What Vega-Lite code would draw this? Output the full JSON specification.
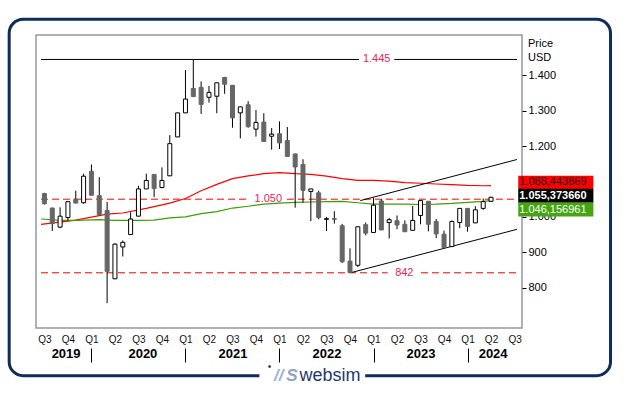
{
  "$schema": "https://vega.github.io/schema/vega-lite/v6.json",
  "width": 486,
  "height": 293,
  "autosize": {"type": "none"},
  "padding": {"left": 36, "top": 35, "right": 107, "bottom": 67},
  "background": "white",
  "config": {
    "view": {"stroke": "#9696a8", "strokeWidth": 1.5},
    "font": "Liberation Sans",
    "axis": {"grid": false}
  },
  "resolve": {"axis": {"x": "independent", "y": "independent"}},
  "datasets": {
    "one": [{"id": 1}],
    "ohlc": [
      {"t":0,"open":1066,"high":1068,"low":1035,"close":1037},
      {"t":1,"open":1025,"high":1026,"low":960,"close":981},
      {"t":2,"open":971,"high":1027,"low":968,"close":1002},
      {"t":3,"open":998,"high":1043,"low":989,"close":1043},
      {"t":4,"open":1050,"high":1074,"low":1039,"close":1039},
      {"t":5,"open":1040,"high":1122,"low":1037,"close":1115},
      {"t":6,"open":1129,"high":1148,"low":1061,"close":1061},
      {"t":7,"open":1060,"high":1112,"low":1004,"close":1006},
      {"t":8,"open":1018,"high":1042,"low":756,"close":846},
      {"t":9,"open":825,"high":925,"low":824,"close":923},
      {"t":10,"open":915,"high":933,"low":888,"close":928},
      {"t":11,"open":950,"high":1013,"low":950,"close":994},
      {"t":12,"open":1002,"high":1088,"low":1002,"close":1079},
      {"t":13,"open":1079,"high":1122,"low":1079,"close":1103},
      {"t":14,"open":1120,"high":1120,"low":1056,"close":1080},
      {"t":15,"open":1083,"high":1140,"low":1081,"close":1103},
      {"t":16,"open":1116,"high":1231,"low":1116,"close":1207},
      {"t":17,"open":1226,"high":1294,"low":1226,"close":1294},
      {"t":18,"open":1294,"high":1415,"low":1294,"close":1333},
      {"t":19,"open":1363,"high":1445,"low":1340,"close":1340},
      {"t":20,"open":1366,"high":1383,"low":1291,"close":1318},
      {"t":21,"open":1338,"high":1370,"low":1323,"close":1352},
      {"t":22,"open":1341,"high":1379,"low":1293,"close":1379},
      {"t":23,"open":1394,"high":1396,"low":1348,"close":1375},
      {"t":24,"open":1372,"high":1372,"low":1252,"close":1280},
      {"t":25,"open":1294,"high":1311,"low":1222,"close":1311},
      {"t":26,"open":1317,"high":1327,"low":1252,"close":1255},
      {"t":27,"open":1248,"high":1302,"low":1227,"close":1267},
      {"t":28,"open":1268,"high":1293,"low":1213,"close":1213},
      {"t":29,"open":1228,"high":1251,"low":1190,"close":1234},
      {"t":30,"open":1235,"high":1270,"low":1192,"close":1209},
      {"t":31,"open":1216,"high":1254,"low":1171,"close":1171},
      {"t":32,"open":1178,"high":1178,"low":1026,"close":1141},
      {"t":33,"open":1148,"high":1163,"low":1040,"close":1075},
      {"t":34,"open":1072,"high":1079,"low":988,"close":1079},
      {"t":35,"open":1068,"high":1074,"low":993,"close":998},
      {"t":36,"open":993,"high":1000,"low":960,"close":995},
      {"t":37,"open":995,"high":1016,"low":981,"close":993},
      {"t":38,"open":975,"high":980,"low":870,"close":873},
      {"t":39,"open":875,"high":911,"low":842,"close":843},
      {"t":40,"open":863,"high":972,"low":858,"close":972},
      {"t":41,"open":978,"high":984,"low":948,"close":954},
      {"t":42,"open":956,"high":1054,"low":956,"close":1033},
      {"t":43,"open":1045,"high":1050,"low":963,"close":963},
      {"t":44,"open":984,"high":997,"low":939,"close":992},
      {"t":45,"open":989,"high":1004,"low":965,"close":977},
      {"t":46,"open":979,"high":990,"low":958,"close":958},
      {"t":47,"open":962,"high":1031,"low":962,"close":990},
      {"t":48,"open":1004,"high":1046,"low":979,"close":1046},
      {"t":49,"open":1044,"high":1044,"low":959,"close":979},
      {"t":50,"open":987,"high":994,"low":940,"close":952},
      {"t":51,"open":951,"high":961,"low":913,"close":913},
      {"t":52,"open":916,"high":990,"low":916,"close":987},
      {"t":53,"open":984,"high":1024,"low":968,"close":1024},
      {"t":54,"open":1024,"high":1024,"low":958,"close":973},
      {"t":55,"open":983,"high":1030,"low":983,"close":1020},
      {"t":56,"open":1024,"high":1052,"low":1020,"close":1043},
      {"t":57,"open":1044,"high":1057,"low":1044,"close":1055.37366}
    ],
    "ma": [
      {"s":"fast","t":-0.4375,"v":979},{"s":"fast","t":3,"v":988},{"s":"fast","t":4,"v":991},{"s":"fast","t":8,"v":1008},
      {"s":"fast","t":10,"v":1011},{"s":"fast","t":13,"v":1024},{"s":"fast","t":16,"v":1039},{"s":"fast","t":18,"v":1052},
      {"s":"fast","t":20,"v":1074},{"s":"fast","t":22,"v":1092},{"s":"fast","t":24,"v":1108},{"s":"fast","t":26,"v":1116},
      {"s":"fast","t":28,"v":1122},{"s":"fast","t":30,"v":1125},{"s":"fast","t":32,"v":1122},{"s":"fast","t":34,"v":1120},
      {"s":"fast","t":36,"v":1115},{"s":"fast","t":38,"v":1108},{"s":"fast","t":40,"v":1103},{"s":"fast","t":42,"v":1103},
      {"s":"fast","t":44,"v":1101},{"s":"fast","t":46,"v":1097},{"s":"fast","t":48,"v":1095},{"s":"fast","t":50,"v":1093},
      {"s":"fast","t":52,"v":1091},{"s":"fast","t":54,"v":1089},{"s":"fast","t":56,"v":1088},{"s":"fast","t":57,"v":1088.443869},
      {"s":"slow","t":-0.4375,"v":994},{"s":"slow","t":2,"v":990},{"s":"slow","t":4,"v":990},{"s":"slow","t":7,"v":992},
      {"s":"slow","t":9,"v":990},{"s":"slow","t":12,"v":990},{"s":"slow","t":14,"v":991},{"s":"slow","t":16,"v":997},
      {"s":"slow","t":18,"v":1000},{"s":"slow","t":20,"v":1009},{"s":"slow","t":22,"v":1015},{"s":"slow","t":24,"v":1025},
      {"s":"slow","t":26,"v":1030},{"s":"slow","t":28,"v":1036},{"s":"slow","t":30,"v":1039},{"s":"slow","t":32,"v":1041},
      {"s":"slow","t":34,"v":1042},{"s":"slow","t":36,"v":1043},{"s":"slow","t":38,"v":1044},{"s":"slow","t":40,"v":1040},
      {"s":"slow","t":42,"v":1036},{"s":"slow","t":44,"v":1036},{"s":"slow","t":46,"v":1036},{"s":"slow","t":48,"v":1035},
      {"s":"slow","t":50,"v":1036},{"s":"slow","t":52,"v":1038},{"s":"slow","t":54,"v":1041},{"s":"slow","t":56,"v":1044},
      {"s":"slow","t":57,"v":1046.156961}
    ],
    "levels": [
      {"level":1445,"from":-0.4375,"to":40.15},
      {"level":1445,"from":44.65,"to":60.3125},
      {"level":1050,"from":-0.4375,"to":26.19},
      {"level":1050,"from":30.94,"to":60.3125},
      {"level":842,"from":-0.4375,"to":43.81},
      {"level":842,"from":48.06,"to":60.3125}
    ],
    "levelLabels": [
      {"level":1445,"t":42.4,"label":"1.445"},
      {"level":1050,"t":28.57,"label":"1.050"},
      {"level":842,"t":45.93,"label":"842"}
    ],
    "channel": [
      {"side":"upper","t0":40.31,"v0":1045.9,"t1":60.3125,"v1":1162.2},
      {"side":"lower","t0":39.06,"v0":842,"t1":60.3125,"v1":964.8}
    ],
    "last": [
      {"series":"fast","value":1088.443869,"label":"1.088,443869"},
      {"series":"price","value":1055.37366,"label":"1.055,373660"},
      {"series":"slow","value":1046.156961,"label":"1.046,156961"}
    ],
    "logo": [
      {"part":"dot","text":"•"},
      {"part":"mark","text":"//"},
      {"part":"s","text":"S"},
      {"part":"word","text":"websim"}
    ]
  },
  "layer": [
    {
      "data": {"name": "one"},
      "mark": {"type": "rect", "fill": "white", "fillOpacity": 0, "stroke": "#0f2c5c", "strokeWidth": 3, "cornerRadius": 14},
      "encoding": {
        "x": {"datum": -4.5, "type": "quantitative", "scale": {"domain": [-0.4375, 60.3125], "nice": false, "zero": false}, "axis": null},
        "x2": {"datum": 72.25},
        "y": {"datum": 1558.7, "type": "quantitative", "scale": {"domain": [700, 1500], "nice": false, "zero": false}, "axis": null},
        "y2": {"datum": 551.2}
      }
    },
    {
      "data": {"name": "one"},
      "mark": {"type": "rect", "fill": "white", "stroke": null},
      "encoding": {
        "x": {"datum": 27.44, "type": "quantitative", "scale": {"domain": [-0.4375, 60.3125], "nice": false, "zero": false}, "axis": null},
        "x2": {"datum": 40.94},
        "y": {"datum": 565, "type": "quantitative", "scale": {"domain": [700, 1500], "nice": false, "zero": false}, "axis": null},
        "y2": {"datum": 538}
      }
    },
    {
      "data": {"name": "logo"},
      "transform": [{"filter": "datum.part == 'word'"}],
      "mark": {"type": "text", "align": "center", "baseline": "alphabetic", "fontSize": 18, "color": "#1b3a6b", "font": "Liberation Sans"},
      "encoding": {
        "x": {"datum": 36.44, "type": "quantitative", "scale": {"domain": [-0.4375, 60.3125], "nice": false, "zero": false}, "axis": null},
        "y": {"datum": 536.2, "type": "quantitative", "scale": {"domain": [700, 1500], "nice": false, "zero": false}, "axis": null},
        "text": {"field": "text"}
      }
    },
    {
      "data": {"name": "logo"},
      "transform": [{"filter": "datum.part == 'mark'"}],
      "mark": {"type": "text", "align": "center", "baseline": "alphabetic", "fontSize": 17, "fontStyle": "italic", "fontWeight": "bold", "color": "#9fb2d0", "font": "Liberation Sans"},
      "encoding": {
        "x": {"datum": 29.9, "type": "quantitative", "scale": {"domain": [-0.4375, 60.3125], "nice": false, "zero": false}, "axis": null},
        "y": {"datum": 536.2, "type": "quantitative", "scale": {"domain": [700, 1500], "nice": false, "zero": false}, "axis": null},
        "text": {"field": "text"}
      }
    },
    {
      "data": {"name": "logo"},
      "transform": [{"filter": "datum.part == 's'"}],
      "mark": {"type": "text", "align": "center", "baseline": "alphabetic", "fontSize": 17, "fontStyle": "italic", "fontWeight": "bold", "color": "#8ea3c6", "font": "Liberation Sans"},
      "encoding": {
        "x": {"datum": 31.6, "type": "quantitative", "scale": {"domain": [-0.4375, 60.3125], "nice": false, "zero": false}, "axis": null},
        "y": {"datum": 536.2, "type": "quantitative", "scale": {"domain": [700, 1500], "nice": false, "zero": false}, "axis": null},
        "text": {"field": "text"}
      }
    },
    {
      "data": {"name": "logo"},
      "transform": [{"filter": "datum.part == 'dot'"}],
      "mark": {"type": "text", "align": "center", "baseline": "middle", "fontSize": 10, "color": "#1b3a6b", "font": "Liberation Sans"},
      "encoding": {
        "x": {"datum": 28.72, "type": "quantitative", "scale": {"domain": [-0.4375, 60.3125], "nice": false, "zero": false}, "axis": null},
        "y": {"datum": 576.3, "type": "quantitative", "scale": {"domain": [700, 1500], "nice": false, "zero": false}, "axis": null},
        "text": {"field": "text"}
      }
    },
    {
      "data": {"name": "levels"},
      "transform": [{"filter": "datum.level == 1445"}],
      "mark": {"type": "rule", "color": "black", "strokeWidth": 1},
      "encoding": {
        "x": {"field": "from", "type": "quantitative", "scale": {"domain": [-0.4375, 60.3125], "nice": false, "zero": false}, "axis": null},
        "x2": {"field": "to"},
        "y": {"field": "level", "type": "quantitative", "scale": {"domain": [700, 1500], "nice": false, "zero": false},
          "axis": {"orient": "right", "values": [800, 900, 1000, 1100, 1200, 1300, 1400],
            "labelExpr": "datum.value == 1100 ? '' : datum.value >= 1000 ? replace(format(datum.value, ','), ',', '.') : format(datum.value, 'd')",
            "domain": false, "ticks": true, "tickSize": 4, "tickColor": "black", "labelFontSize": 11, "labelColor": "black", "labelPadding": 2,
            "grid": false, "zindex": 0, "labelOverlap": false,
            "title": ["Price", "USD"], "titleAngle": 0, "titleAlign": "left", "titleBaseline": "alphabetic", "titleX": 5.5, "titleY": 11,
            "titleFontSize": 11, "titleFontWeight": "normal", "titleColor": "black", "titleLineHeight": 14.7}}
      }
    },
    {
      "data": {"name": "levels"},
      "transform": [{"filter": "datum.level != 1445"}],
      "mark": {"type": "rule", "color": "#ff0000", "strokeWidth": 1, "strokeDash": [7, 4]},
      "encoding": {
        "x": {"field": "from", "type": "quantitative", "scale": {"domain": [-0.4375, 60.3125], "nice": false, "zero": false}, "axis": null},
        "x2": {"field": "to"},
        "y": {"field": "level", "type": "quantitative", "scale": {"domain": [700, 1500], "nice": false, "zero": false}, "axis": null}
      }
    },
    {
      "data": {"name": "levelLabels"},
      "mark": {"type": "text", "align": "center", "baseline": "middle", "fontSize": 11, "color": "#f0245a"},
      "encoding": {
        "x": {"field": "t", "type": "quantitative", "scale": {"domain": [-0.4375, 60.3125], "nice": false, "zero": false}, "axis": null},
        "y": {"field": "level", "type": "quantitative", "scale": {"domain": [700, 1500], "nice": false, "zero": false}, "axis": null},
        "text": {"field": "label"}
      }
    },
    {
      "data": {"name": "ma"},
      "transform": [{"filter": "datum.s == 'fast'"}],
      "mark": {"type": "line", "color": "#ff0000", "strokeWidth": 1.2},
      "encoding": {
        "x": {"field": "t", "type": "quantitative", "scale": {"domain": [-0.4375, 60.3125], "nice": false, "zero": false},
          "axis": {"orient": "bottom", "offset": 20, "values": [6, 18, 30, 42, 54], "labels": false, "ticks": true, "tickSize": 14, "tickColor": "black", "tickWidth": 1, "domain": false, "title": null, "grid": false}},
        "y": {"field": "v", "type": "quantitative", "scale": {"domain": [700, 1500], "nice": false, "zero": false}, "axis": null}
      }
    },
    {
      "data": {"name": "ma"},
      "transform": [{"filter": "datum.s == 'slow'"}],
      "mark": {"type": "line", "color": "#3c9f00", "strokeWidth": 1.2},
      "encoding": {
        "x": {"field": "t", "type": "quantitative", "scale": {"domain": [-0.4375, 60.3125], "nice": false, "zero": false}, "axis": null},
        "y": {"field": "v", "type": "quantitative", "scale": {"domain": [700, 1500], "nice": false, "zero": false}, "axis": null}
      }
    },
    {
      "data": {"name": "channel"},
      "mark": {"type": "rule", "color": "black", "strokeWidth": 1},
      "encoding": {
        "x": {"field": "t0", "type": "quantitative", "scale": {"domain": [-0.4375, 60.3125], "nice": false, "zero": false}, "axis": null},
        "x2": {"field": "t1"},
        "y": {"field": "v0", "type": "quantitative", "scale": {"domain": [700, 1500], "nice": false, "zero": false}, "axis": null},
        "y2": {"field": "v1"}
      }
    },
    {
      "data": {"name": "ohlc"},
      "mark": {"type": "rule", "color": "black", "strokeWidth": 1},
      "encoding": {
        "x": {"field": "t", "type": "quantitative", "scale": {"domain": [-0.4375, 60.3125], "nice": false, "zero": false},
          "axis": {"orient": "bottom", "values": [0, 3, 6, 9, 12, 15, 18, 21, 24, 27, 30, 33, 36, 39, 42, 45, 48, 51, 54, 57, 60],
            "labelExpr": "'Q' + ((round(datum.value / 3) + 2) % 4 + 1)", "ticks": false, "domain": false, "title": null, "grid": false,
            "labelFontSize": 10, "labelColor": "#111111", "labelPadding": 6, "labelFlush": 5, "labelFlushOffset": 3.5, "labelOverlap": false}},
        "y": {"field": "low", "type": "quantitative", "scale": {"domain": [700, 1500], "nice": false, "zero": false}, "axis": null},
        "y2": {"field": "high"}
      }
    },
    {
      "data": {"name": "ohlc"},
      "mark": {"type": "bar", "orient": "vertical", "width": 4, "strokeWidth": 1},
      "encoding": {
        "x": {"field": "t", "type": "quantitative", "scale": {"domain": [-0.4375, 60.3125], "nice": false, "zero": false},
          "axis": {"orient": "bottom", "offset": 18, "values": [2.7, 12.5, 24, 36, 48, 57.2],
            "labelExpr": "'' + (floor((datum.value + 6) / 12) + 2019)", "ticks": false, "domain": false, "title": null, "grid": false,
            "labelFontSize": 13, "labelFontWeight": "bold", "labelColor": "black", "labelPadding": 1, "labelOverlap": false, "labelFlush": false}},
        "y": {"field": "open", "type": "quantitative", "scale": {"domain": [700, 1500], "nice": false, "zero": false}, "axis": null},
        "y2": {"field": "close"},
        "fill": {"condition": {"test": "datum.close >= datum.open", "value": "white"}, "value": "#666666"},
        "stroke": {"condition": {"test": "datum.close >= datum.open", "value": "black"}, "value": "#666666"}
      }
    },
    {
      "data": {"name": "last"},
      "transform": [{"filter": "datum.series == 'fast'"}],
      "mark": {"type": "bar", "orient": "horizontal", "height": 13.5, "yOffset": -3.1, "color": "#ff0000"},
      "encoding": {
        "x": {"datum": 60.47, "type": "quantitative", "scale": {"domain": [-0.4375, 60.3125], "nice": false, "zero": false}, "axis": null},
        "x2": {"datum": 70.06},
        "y": {"field": "value", "type": "quantitative", "scale": {"domain": [700, 1500], "nice": false, "zero": false}, "axis": null}
      }
    },
    {
      "data": {"name": "last"},
      "transform": [{"filter": "datum.series == 'price'"}],
      "mark": {"type": "bar", "orient": "horizontal", "height": 14, "yOffset": -1.6, "color": "#000000"},
      "encoding": {
        "x": {"datum": 60.47, "type": "quantitative", "scale": {"domain": [-0.4375, 60.3125], "nice": false, "zero": false}, "axis": null},
        "x2": {"datum": 70.06},
        "y": {"field": "value", "type": "quantitative", "scale": {"domain": [700, 1500], "nice": false, "zero": false}, "axis": null}
      }
    },
    {
      "data": {"name": "last"},
      "transform": [{"filter": "datum.series == 'slow'"}],
      "mark": {"type": "bar", "orient": "horizontal", "height": 14, "yOffset": 9, "color": "#44a511"},
      "encoding": {
        "x": {"datum": 60.47, "type": "quantitative", "scale": {"domain": [-0.4375, 60.3125], "nice": false, "zero": false}, "axis": null},
        "x2": {"datum": 70.06},
        "y": {"field": "value", "type": "quantitative", "scale": {"domain": [700, 1500], "nice": false, "zero": false}, "axis": null}
      }
    },
    {
      "data": {"name": "last"},
      "transform": [{"filter": "datum.series == 'fast'"}],
      "mark": {"type": "text", "align": "left", "baseline": "middle", "dx": 1, "yOffset": -3.1, "fontSize": 11, "color": "#220000"},
      "encoding": {
        "x": {"datum": 60.47, "type": "quantitative", "scale": {"domain": [-0.4375, 60.3125], "nice": false, "zero": false}, "axis": null},
        "y": {"field": "value", "type": "quantitative", "scale": {"domain": [700, 1500], "nice": false, "zero": false}, "axis": null},
        "text": {"field": "label"}
      }
    },
    {
      "data": {"name": "last"},
      "transform": [{"filter": "datum.series == 'price'"}],
      "mark": {"type": "text", "align": "left", "baseline": "middle", "dx": 1, "yOffset": -1.6, "fontSize": 11, "fontWeight": "bold", "color": "white"},
      "encoding": {
        "x": {"datum": 60.47, "type": "quantitative", "scale": {"domain": [-0.4375, 60.3125], "nice": false, "zero": false}, "axis": null},
        "y": {"field": "value", "type": "quantitative", "scale": {"domain": [700, 1500], "nice": false, "zero": false}, "axis": null},
        "text": {"field": "label"}
      }
    },
    {
      "data": {"name": "last"},
      "transform": [{"filter": "datum.series == 'slow'"}],
      "mark": {"type": "text", "align": "left", "baseline": "middle", "dx": 1, "yOffset": 9, "fontSize": 11, "color": "white"},
      "encoding": {
        "x": {"datum": 60.47, "type": "quantitative", "scale": {"domain": [-0.4375, 60.3125], "nice": false, "zero": false}, "axis": null},
        "y": {"field": "value", "type": "quantitative", "scale": {"domain": [700, 1500], "nice": false, "zero": false}, "axis": null},
        "text": {"field": "label"}
      }
    }
  ]
}
